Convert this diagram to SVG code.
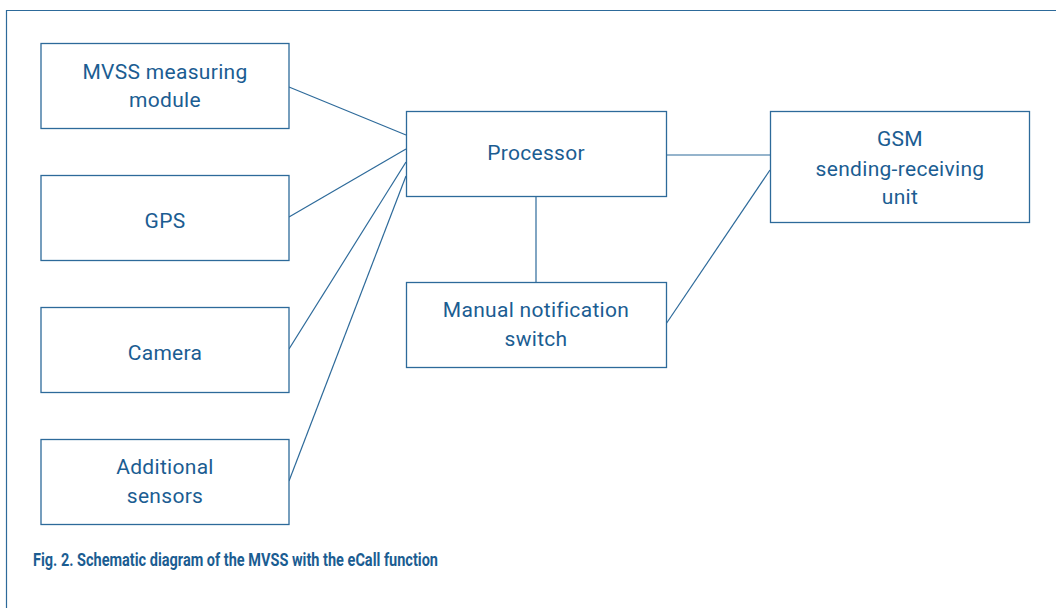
<svg xmlns="http://www.w3.org/2000/svg" width="1056" height="608" viewBox="0 0 1056 608">
<style>
.box{fill:#fff;stroke:#2d6a9a;stroke-width:1.3}
.t{font-family:Roboto,"Liberation Sans",sans-serif;font-size:21px;letter-spacing:0.3px;fill:#1b5d92;text-anchor:middle}
.c{stroke:#2d6a9a;stroke-width:1.2;fill:none}
.cap{font-family:Roboto,"Liberation Sans",sans-serif;font-size:18px;font-weight:bold;fill:#1b5d92}
</style>
<rect width="1056" height="608" fill="#fff"/>
<path d="M6.5,608 V10.5 H1056" class="c" stroke-width="1.5"/>
<g id="connectors">
<line class="c" x1="289" y1="87" x2="406" y2="135"/>
<line class="c" x1="289" y1="217" x2="406" y2="149"/>
<line class="c" x1="289" y1="349" x2="406" y2="162"/>
<line class="c" x1="289" y1="481" x2="406" y2="176"/>
<line class="c" x1="666" y1="155" x2="770" y2="155"/>
<line class="c" x1="536" y1="196" x2="536" y2="282"/>
<line class="c" x1="666" y1="324" x2="770" y2="170"/>
</g>
<g id="mvss"><rect class="box" x="41" y="43.5" width="248" height="85"/><text class="t" x="165" y="79">MVSS measuring</text><text class="t" x="165" y="107">module</text></g>
<g id="gps"><rect class="box" x="41" y="175.5" width="248" height="85"/><text class="t" x="165" y="228">GPS</text></g>
<g id="camera"><rect class="box" x="41" y="307.5" width="248" height="85"/><text class="t" x="165" y="360">Camera</text></g>
<g id="additional"><rect class="box" x="41" y="439.5" width="248" height="85"/><text class="t" x="165" y="474">Additional</text><text class="t" x="165" y="503">sensors</text></g>
<g id="processor"><rect class="box" x="406.5" y="111.5" width="260" height="85"/><text class="t" x="536" y="160">Processor</text></g>
<g id="manual"><rect class="box" x="406.5" y="282.5" width="260" height="85"/><text class="t" x="536" y="317">Manual notification</text><text class="t" x="536" y="346">switch</text></g>
<g id="gsm"><rect class="box" x="770.5" y="111.5" width="259" height="111"/><text class="t" x="900" y="146">GSM</text><text class="t" x="900" y="176">sending-receiving</text><text class="t" x="900" y="204">unit</text></g>
<text class="cap" x="33" y="566" textLength="405" lengthAdjust="spacingAndGlyphs">Fig. 2. Schematic diagram of the MVSS with the eCall function</text>
</svg>
